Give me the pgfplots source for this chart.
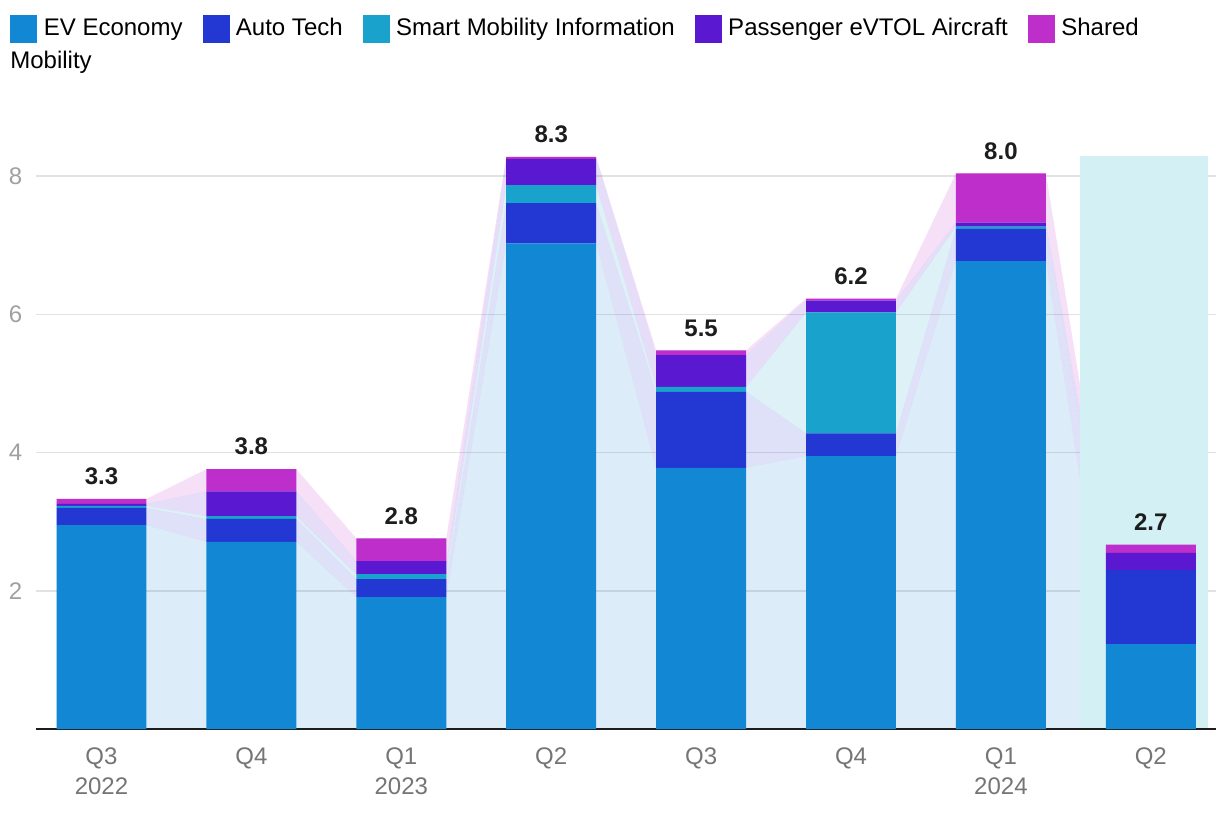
\documentclass[border=0pt]{standalone}
\usepackage{pgfplots}
\pgfplotsset{compat=1.18}
\usepackage{pgfplotstable}
\usepackage{fontspec}
\setmainfont{Liberation Sans}
\definecolor{cEV}{HTML}{1287D4}
\definecolor{cAuto}{HTML}{2338D3}
\definecolor{cSmart}{HTML}{19A2CC}
\definecolor{cEvtol}{HTML}{5A19D0}
\definecolor{cShared}{HTML}{BE2ECB}
\definecolor{hl}{HTML}{D3F0F4}
\definecolor{gridc}{HTML}{E2E2E2}
\definecolor{ylab}{HTML}{A0A0A0}
\definecolor{xlab}{HTML}{757575}
\definecolor{lab}{HTML}{1D1D1D}

\pgfplotstableread{
x  ev   auto smart evtol shared total
0  2.95 0.25 0.03  0.03  0.07   3.3
1  2.71 0.33 0.04  0.36  0.32   3.8
2  1.91 0.26 0.07  0.19  0.33   2.8
3  7.03 0.58 0.26  0.38  0.03   8.3
4  3.78 1.10 0.07  0.46  0.07   5.5
5  3.95 0.33 1.75  0.17  0.03   6.2
6  6.77 0.47 0.03  0.06  0.71   8.0
7  1.23 1.07 0.00  0.25  0.12   2.7
}\bars

% same values, at the left and right edges of each bar (connecting bands)
\pgfplotstableread{
x     ev   auto smart evtol shared
-0.3  2.95 0.25 0.03  0.03  0.07
0.3   2.95 0.25 0.03  0.03  0.07
0.7   2.71 0.33 0.04  0.36  0.32
1.3   2.71 0.33 0.04  0.36  0.32
1.7   1.91 0.26 0.07  0.19  0.33
2.3   1.91 0.26 0.07  0.19  0.33
2.7   7.03 0.58 0.26  0.38  0.03
3.3   7.03 0.58 0.26  0.38  0.03
3.7   3.78 1.10 0.07  0.46  0.07
4.3   3.78 1.10 0.07  0.46  0.07
4.7   3.95 0.33 1.75  0.17  0.03
5.3   3.95 0.33 1.75  0.17  0.03
5.7   6.77 0.47 0.03  0.06  0.71
6.3   6.77 0.47 0.03  0.06  0.71
6.7   1.23 1.07 0.00  0.25  0.12
7.3   1.23 1.07 0.00  0.25  0.12
}\areas

\begin{document}
\begin{tikzpicture}
\useasboundingbox (-18pt,-43.5pt) rectangle (592pt,364.5pt);
\pgfplotsset{base/.style={scale only axis, width=590pt, height=286.75pt,
  xmin=-0.437, xmax=7.435, ymin=0, ymax=8.3,
  axis line style={draw=none}, major tick length=0pt,
  /pgf/number format/assume math mode=true}}
% background: highlight, grid, connecting bands
\begin{axis}[base, xtick=\empty, ytick={2,4,6,8}, ymajorgrids,
  grid style={gridc, line width=0.75pt},
  yticklabel style={text=ylab, font=\fontsize{12}{14}\selectfont, xshift=-3.3pt},
  stack plots=y]
\fill[hl] (axis cs:6.528,0) rectangle (axis cs:7.382,8.29);
\addplot[draw=none, fill=cEV, fill opacity=0.15] table[x=x,y=ev]{\areas} \closedcycle;
\addplot[draw=none, fill=cAuto, fill opacity=0.15] table[x=x,y=auto]{\areas} \closedcycle;
\addplot[draw=none, fill=cSmart, fill opacity=0.15] table[x=x,y=smart]{\areas} \closedcycle;
\addplot[draw=none, fill=cEvtol, fill opacity=0.15] table[x=x,y=evtol]{\areas} \closedcycle;
\addplot[draw=none, fill=cShared, fill opacity=0.15] table[x=x,y=shared]{\areas} \closedcycle;
\end{axis}
% bars
\begin{axis}[base, ybar stacked, bar width=0.6, ytick=\empty,
  xtick={0,...,7},
  xticklabels={{Q3\\2022},Q4,{Q1\\2023},Q2,Q3,Q4,{Q1\\2024},Q2},
  xticklabel style={align=center, text=xlab, font=\fontsize{12}{15}\selectfont, yshift=-5.6pt},
  clip=false,
  legend style={draw=none, fill=none, at={(-0.022,1.2467)}, anchor=north west,
    inner sep=0pt, legend columns=-1, font=\fontsize{12}{14}\selectfont,
    /tikz/every odd column/.append style={column sep=1.2pt},
    /tikz/every even column/.append style={column sep=8pt}},
  sq/.style={legend image code/.code={\fill[##1] (0pt,-7pt) rectangle (13.5pt,7pt);}}]
\addplot[fill=cEV, draw=none, sq] table[x=x,y=ev]{\bars};
\addplot[fill=cAuto, draw=none, sq] table[x=x,y=auto]{\bars};
\addplot[fill=cSmart, draw=none, sq] table[x=x,y=smart]{\bars};
\addplot[fill=cEvtol, draw=none, sq] table[x=x,y=evtol]{\bars};
\addplot[fill=cShared, draw=none, sq, point meta=explicit,
  visualization depends on={rawy \as \rawy},
  nodes near coords={\pgfmathprintnumber[fixed,fixed zerofill,precision=1]{\pgfplotspointmeta}},
  every node near coord/.append style={font=\bfseries\fontsize{12}{14}\selectfont, text=lab, anchor=south, yshift={3.5pt+17.274pt*\rawy}}]
  table[x=x,y=shared,meta=total]{\bars};
\legend{EV Economy, Auto Tech, Smart Mobility Information, Passenger eVTOL Aircraft, Shared}
\draw[lab, line width=1.2pt] (rel axis cs:0,0) -- (rel axis cs:1,0);
\end{axis}
\node[anchor=base west, inner sep=0pt, font=\fontsize{12}{14}\selectfont] at (-13pt,330.5pt) {Mobility};
\end{tikzpicture}
\end{document}
